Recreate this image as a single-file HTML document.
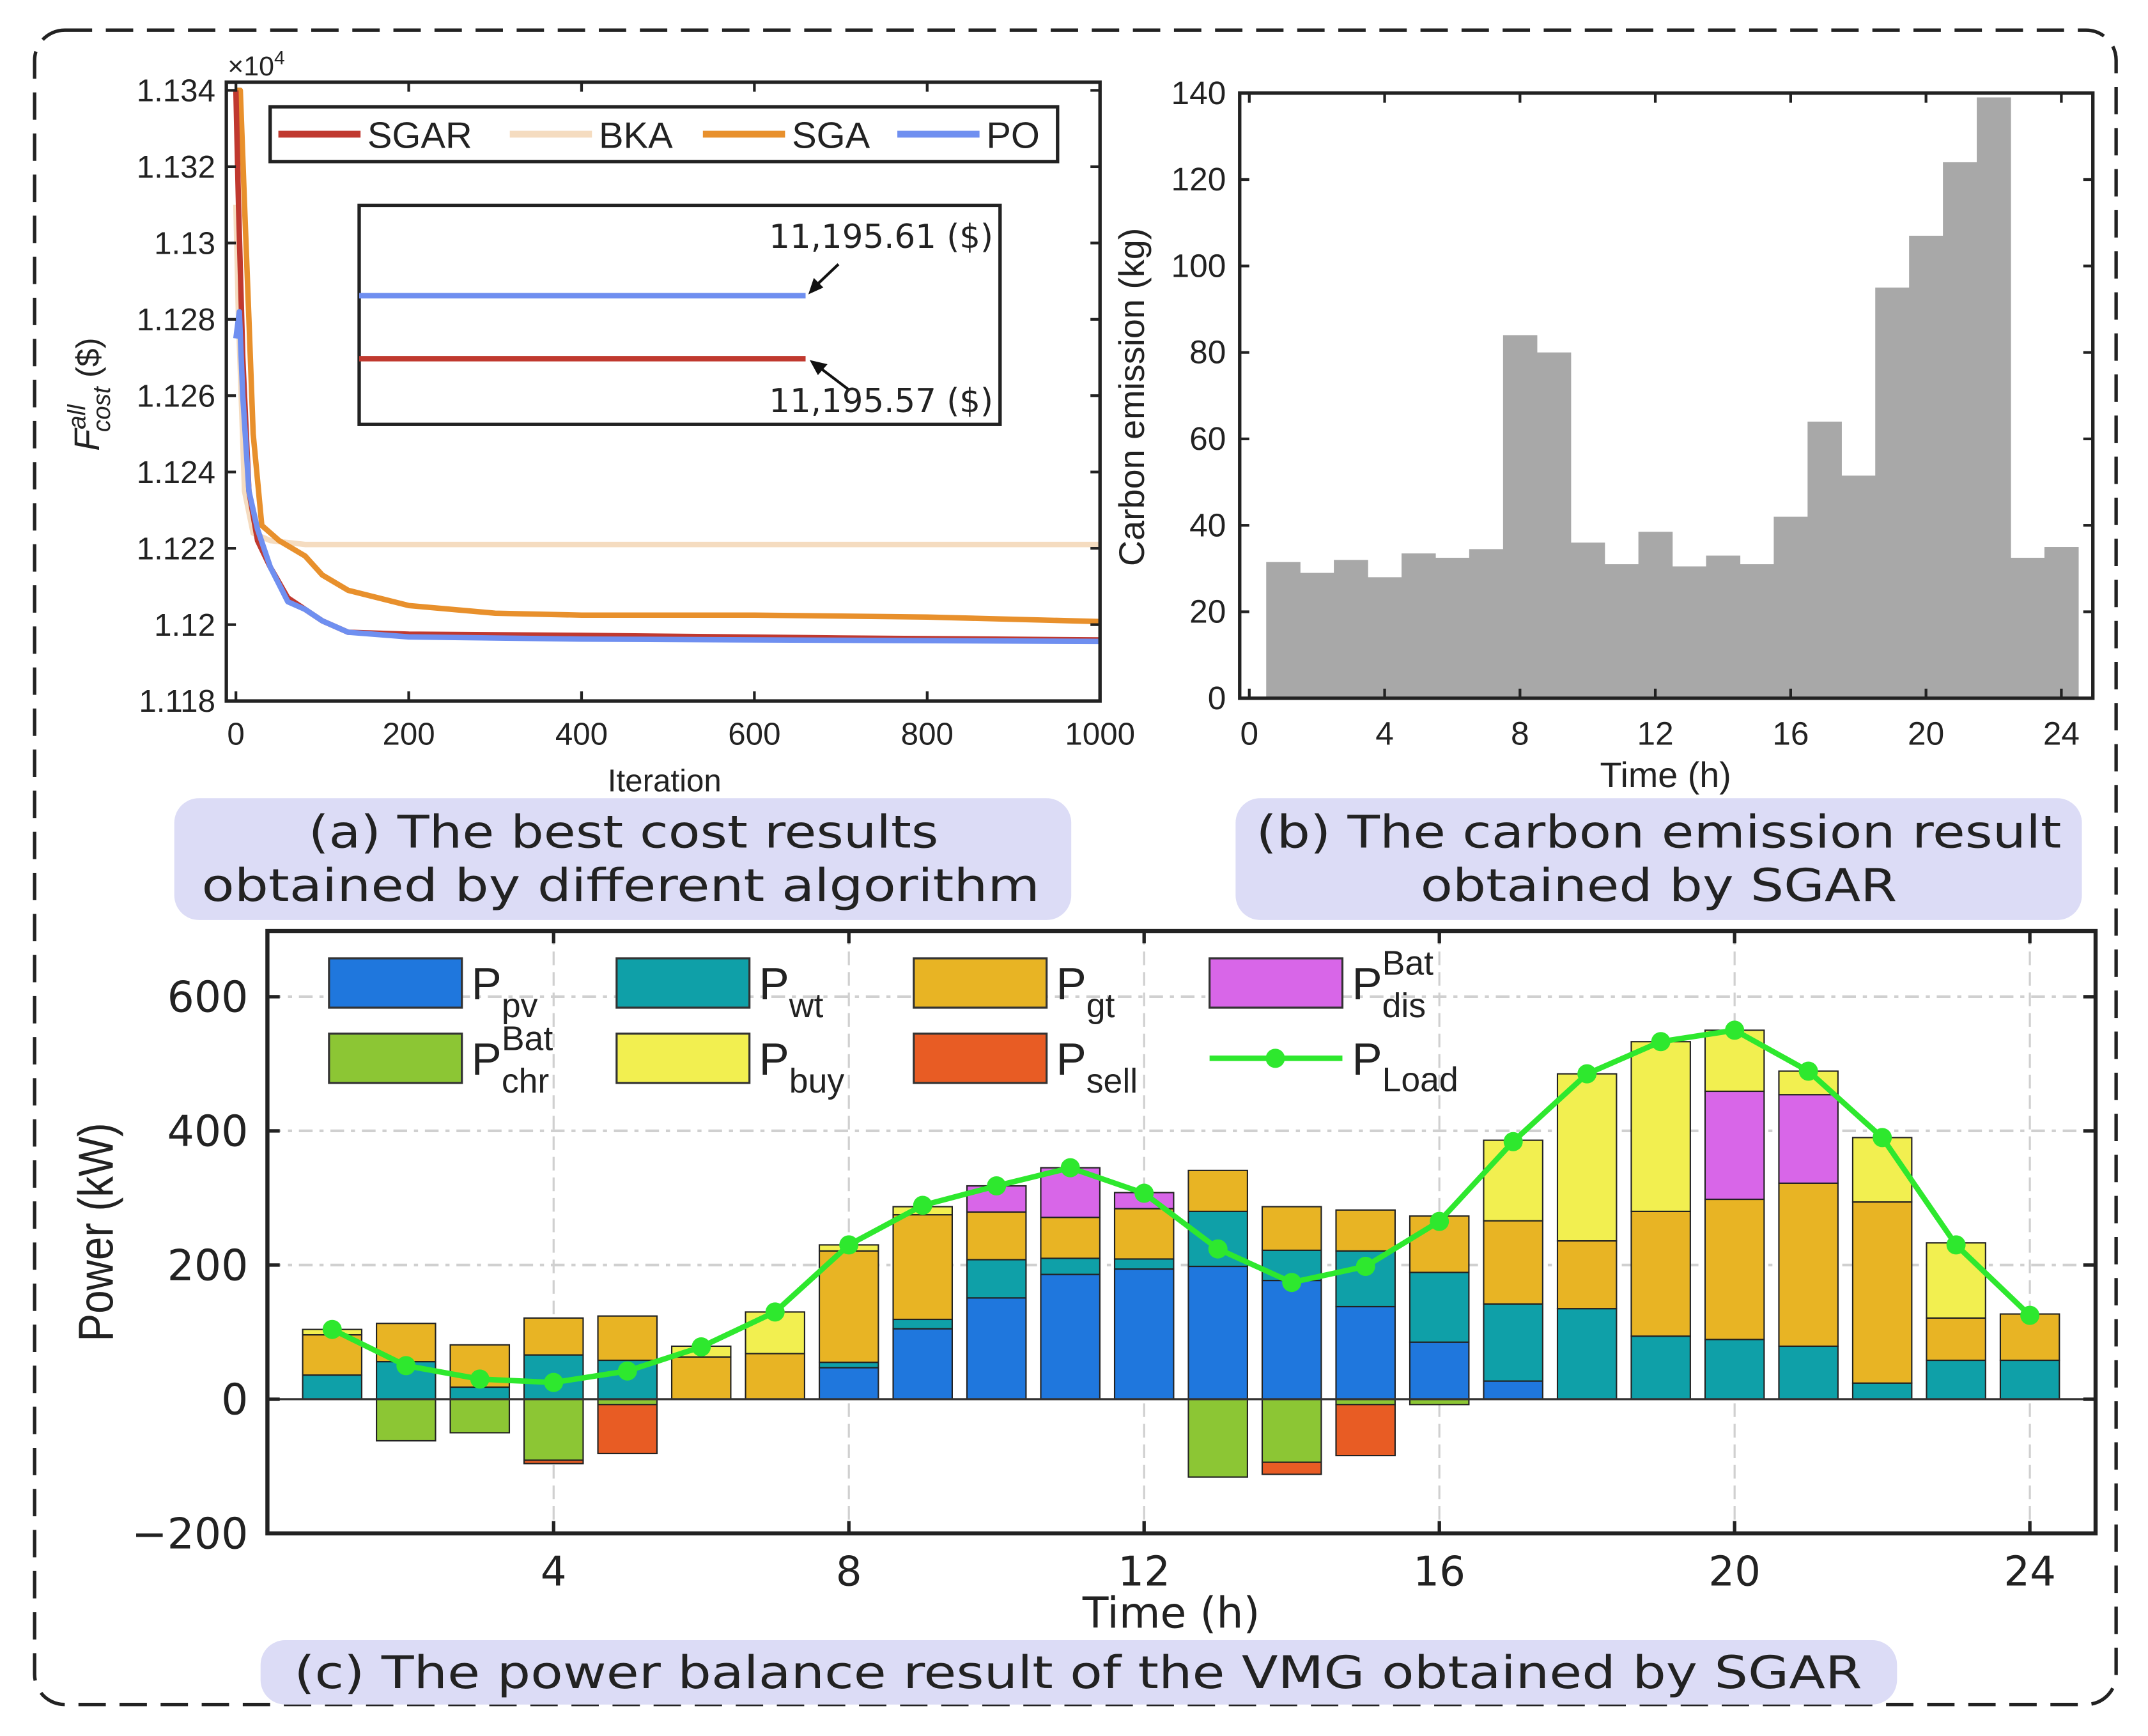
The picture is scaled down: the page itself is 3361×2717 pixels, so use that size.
<!DOCTYPE html>
<html><head><meta charset="utf-8"><style>
html,body{margin:0;padding:0;background:#fff}
svg{display:block}
text{font-family:"Liberation Sans",sans-serif;fill:#222}
.cap{font-family:"DejaVu Sans","Liberation Sans",sans-serif}
</style></head><body>
<svg id="s" width="3361" height="2717" viewBox="0 0 1568 1268" xmlns="http://www.w3.org/2000/svg">
<rect x="25" y="22" width="1520" height="1223" rx="22" fill="none" stroke="#222" stroke-width="2.5" stroke-dasharray="20,10"/>
<g>
<rect x="127" y="583" width="655" height="89" rx="18" fill="#dcdcf6"/>
<text class="cap" x="455" y="619" font-size="33" text-anchor="middle" textLength="460" lengthAdjust="spacingAndGlyphs">(a) The best cost results</text>
<text class="cap" x="453" y="658" font-size="33" text-anchor="middle" textLength="612" lengthAdjust="spacingAndGlyphs">obtained by different algorithm</text>
<rect x="902" y="583" width="618" height="89" rx="18" fill="#dcdcf6"/>
<text class="cap" x="1211" y="619" font-size="33" text-anchor="middle" textLength="588" lengthAdjust="spacingAndGlyphs">(b) The carbon emission result</text>
<text class="cap" x="1211" y="658" font-size="33" text-anchor="middle" textLength="348" lengthAdjust="spacingAndGlyphs">obtained by SGAR</text>
<rect x="190" y="1198" width="1195" height="47" rx="18" fill="#dcdcf6"/>
<text class="cap" x="787" y="1233" font-size="33" text-anchor="middle" textLength="1145" lengthAdjust="spacingAndGlyphs">(c) The power balance result of the VMG obtained by SGAR</text>
</g>
<g id="ga"></g>
<g id="gb"></g>
<g id="gc"></g>
</svg>
<script>
// ---- Panel (a) data ----
const aIterSGAR=[0,3,8,15,25,40,60,80,100,130,200,400,700,1000];
const aValSGAR=[1.134,1.131,1.127,1.1235,1.1222,1.1215,1.1207,1.1204,1.1201,1.1198,1.11975,1.11972,1.11965,1.1196];
const aIterPO=[0,4,8,15,25,40,60,80,100,130,200,400,1000];
const aValPO=[1.1275,1.1282,1.126,1.1235,1.1225,1.1215,1.1206,1.1204,1.1201,1.1198,1.11968,1.11962,1.11956];
const aIterSGA=[0,5,10,15,20,30,50,80,100,130,200,300,400,600,800,1000];
const aValSGA=[1.134,1.134,1.131,1.128,1.125,1.1226,1.1222,1.1218,1.1213,1.1209,1.1205,1.1203,1.12025,1.12025,1.1202,1.12008];
const aIterBKA=[0,3,10,20,40,80,1000];
const aValBKA=[1.131,1.128,1.1235,1.1224,1.1222,1.1221,1.1221];
const aYTicks=[1.118,1.12,1.122,1.124,1.126,1.128,1.13,1.132,1.134];
const aYLabels=["1.118","1.12","1.122","1.124","1.126","1.128","1.13","1.132","1.134"];
const aXTicks=[0,200,400,600,800,1000];
// ---- Panel (b) data ----
const bHours=[1,2,3,4,5,6,7,8,9,10,11,12,13,14,15,16,17,18,19,20,21,22,23,24];
const bEmission=[31.5,29,32,28,33.5,32.5,34.5,84,80,36,31,38.5,30.5,33,31,42,64,51.5,95,107,124,139,32.5,35];
const bYTicks=[0,20,40,60,80,100,120,140];
const bXTicks=[0,4,8,12,16,20,24];
// ---- Panel (c) data ----
const cHours=[1,2,3,4,5,6,7,8,9,10,11,12,13,14,15,16,17,18,19,20,21,22,23,24];
const cPV=[0,0,0,0,0,0,0,47,105,151,186,194,198,177,138,85,27,0,0,0,0,0,0,0];
const cWT=[36,56,18,66,58,0,0,8,14,57,24,15,82,45,83,104,115,135,94,89,79,24,58,58];
const cGT=[60,57,63,55,66,63,68,166,156,71,61,75,61,65,61,84,124,101,186,209,243,270,63,69];
const cDis=[0,0,0,0,0,0,0,0,0,39,74,24,0,0,0,0,0,0,0,161,132,0,0,0];
const cBuy=[8,0,0,0,0,16,62,9,12,0,0,0,0,0,0,0,120,249,253,91,35,96,112,0];
const cChr=[0,62,50,91,8,0,0,0,0,0,0,0,116,94,8,8,0,0,0,0,0,0,0,0];
const cSell=[0,0,0,5,73,0,0,0,0,0,0,0,0,18,76,0,0,0,0,0,0,0,0,0];
const cLoad=[104,50,30,25,42,78,130,230,289,318,345,307,224,174,198,265,384,485,533,550,489,390,230,125];
const cYTicks=[-200,0,200,400,600];
const cYLabels=["\u2212200","0","200","400","600"];
const cXTicks=[4,8,12,16,20,24];

const NS="http://www.w3.org/2000/svg";
function mk(parent,tag,attrs,txt){const e=document.createElementNS(NS,tag);for(const k in attrs)e.setAttribute(k,attrs[k]);if(txt!==undefined)e.textContent=txt;parent.appendChild(e);return e;}

// ===== Panel A =====
(function(){
const g=document.getElementById('ga');
const L=165,R=803,T=60,B=512;
const xs=v=>172+(v/1000)*(803-172);
const ys=v=>512-(v-1.118)/(0.016)*(512-66);
const series=[[aIterBKA,aValBKA,'#f5dcc0','bka-line'],[aIterSGA,aValSGA,'#e8902c','sga-line'],[aIterSGAR,aValSGAR,'#c0392f','sgar-line'],[aIterPO,aValPO,'#6f8ff0','po-line']];
series.forEach(s=>{
 const d=s[0].map((x,i)=>(i?'L':'M')+xs(x).toFixed(1)+','+ys(s[1][i]).toFixed(1)).join(' ');
 const p=mk(g,'path',{d:d,fill:'none',stroke:s[2],'stroke-width':4,'stroke-linejoin':'round'});
 
 
});
const fr=mk(g,'rect',{x:L,y:T,width:R-L,height:B-T,fill:'none',stroke:'#222','stroke-width':2.5});

aYTicks.forEach((v,i)=>{
 const y=ys(v);
 mk(g,'line',{x1:L,x2:L+7,y1:y,y2:y,stroke:'#222','stroke-width':2});
 mk(g,'line',{x1:R,x2:R-7,y1:y,y2:y,stroke:'#222','stroke-width':2});
 const t=mk(g,'text',{x:L-8,y:y+8,'font-size':23,'text-anchor':'end'},aYLabels[i]);
 
});
aXTicks.forEach(v=>{
 const x=xs(v);
 mk(g,'line',{x1:x,x2:x,y1:B,y2:B-7,stroke:'#222','stroke-width':2});
 mk(g,'line',{x1:x,x2:x,y1:T,y2:T+7,stroke:'#222','stroke-width':2});
 const t=mk(g,'text',{x:x,y:B+32,'font-size':23,'text-anchor':'middle'},String(v));
 
});
const e=mk(g,'text',{x:166,y:55,'font-size':20},'\u00d710');mk(e,'tspan',{dy:-8,'font-size':14},'4');

const xl=mk(g,'text',{x:485,y:578,'font-size':23,'text-anchor':'middle'},'Iteration');

const yl=mk(g,'text',{transform:'translate(72,288) rotate(-90)','font-size':26,'text-anchor':'middle','font-style':'italic'},'F');
mk(yl,'tspan',{dy:-10,'font-size':18},'all');mk(yl,'tspan',{dx:-20,dy:18,'font-size':18},'cost');mk(yl,'tspan',{dy:-8,'font-style':'normal','font-size':24},' ($)');

// legend
const lg=mk(g,'g',{});
mk(lg,'rect',{x:197,y:78,width:575,height:40,fill:'#fff',stroke:'#222','stroke-width':2.5});
[['SGAR','#c0392f',203],['BKA','#f5dcc0',372],['SGA','#e8902c',513],['PO','#6f8ff0',655]].forEach(l=>{
 mk(lg,'line',{x1:l[2],x2:l[2]+60,y1:98,y2:98,stroke:l[1],'stroke-width':5});
 const t=mk(lg,'text',{x:l[2]+65,y:108,'font-size':27},l[0]);
 
});
// inset
const ig=mk(g,'g',{});
mk(ig,'rect',{x:262,y:150,width:468,height:160,fill:'#fff',stroke:'#222','stroke-width':2.5});
mk(ig,'line',{x1:262,x2:588,y1:216,y2:216,stroke:'#6f8ff0','stroke-width':4});
mk(ig,'line',{x1:262,x2:588,y1:262,y2:262,stroke:'#c0392f','stroke-width':4});
mk(ig,'line',{x1:612,x2:592,y1:193,y2:212,stroke:'#111','stroke-width':2});
mk(ig,'path',{d:'M590,215 L594,203 L601,210 Z',fill:'#111'});
mk(ig,'line',{x1:620,x2:595,y1:285,y2:266,stroke:'#111','stroke-width':2});
mk(ig,'path',{d:'M591,263 L604,266 L597,274 Z',fill:'#111'});
const t1=mk(ig,'text',{x:725,y:181,'font-size':24,'text-anchor':'end','class':'cap'},'11,195.61 ($)');

const t2=mk(ig,'text',{x:725,y:301,'font-size':24,'text-anchor':'end','class':'cap'},'11,195.57 ($)');

})();

// ===== Panel B =====
(function(){
const g=document.getElementById('gb');
const L=905,R=1528,T=68,B=510;
const xs=v=>912+v*(1505-912)/24;
const ys=v=>510-v*(510-68)/140;
bHours.forEach((h,i)=>{
 const r=mk(g,'rect',{x:xs(h-0.5),y:ys(bEmission[i]),width:xs(h+0.5)-xs(h-0.5)+0.3,height:ys(0)-ys(bEmission[i]),fill:'#a8a8a8'});
 
});
const fr=mk(g,'rect',{x:L,y:T,width:R-L,height:B-T,fill:'none',stroke:'#222','stroke-width':2.5});

bYTicks.forEach(v=>{
 const y=ys(v);
 mk(g,'line',{x1:L,x2:L+7,y1:y,y2:y,stroke:'#222','stroke-width':2});
 mk(g,'line',{x1:R,x2:R-7,y1:y,y2:y,stroke:'#222','stroke-width':2});
 const t=mk(g,'text',{x:L-10,y:y+8,'font-size':24,'text-anchor':'end'},String(v));
 
});
bXTicks.forEach(v=>{
 const x=xs(v);
 mk(g,'line',{x1:x,x2:x,y1:B,y2:B-7,stroke:'#222','stroke-width':2});
 mk(g,'line',{x1:x,x2:x,y1:T,y2:T+7,stroke:'#222','stroke-width':2});
 const t=mk(g,'text',{x:x,y:B+34,'font-size':24,'text-anchor':'middle'},String(v));
 
});
const xl=mk(g,'text',{x:1216,y:575,'font-size':26,'text-anchor':'middle'},'Time (h)');

const yl=mk(g,'text',{transform:'translate(835,290) rotate(-90)','font-size':26,'text-anchor':'middle'},'Carbon emission (kg)');

})();

// ===== Panel C =====
(function(){
const g=document.getElementById('gc');
const L=195,R=1530,T=680,B=1120;
const xs=v=>404+(v-4)*(1482-404)/20;
const ys=v=>1022-v*98/200;
cXTicks.forEach(v=>{mk(g,'line',{x1:xs(v),x2:xs(v),y1:T,y2:B,stroke:'#d0d0d0','stroke-width':1.5,'stroke-dasharray':'10,5'});});
[200,400,600].forEach(v=>{mk(g,'line',{x1:L,x2:R,y1:ys(v),y2:ys(v),stroke:'#d0d0d0','stroke-width':2,'stroke-dasharray':'10,5,3,5'});});
const bw=0.8;
const cols={pv:'#1f77dd',wt:'#0fa0a8',gt:'#e8b424',dis:'#d866e8',buy:'#f2ef50',chr:'#8cc634',sell:'#e85c24'};
cHours.forEach((h,i)=>{
 const x0=xs(h-bw/2),w=xs(h+bw/2)-xs(h-bw/2);
 let acc=0;
 [['pv',cPV],['wt',cWT],['gt',cGT],['dis',cDis],['buy',cBuy]].forEach(s=>{
  const v=s[1][i]; if(v<=0) return;
  const r=mk(g,'rect',{x:x0,y:ys(acc+v),width:w,height:ys(acc)-ys(acc+v),fill:cols[s[0]],stroke:'#222','stroke-width':1});
  
  acc+=v;
 });
 let neg=0;
 [['chr',cChr],['sell',cSell]].forEach(s=>{
  const v=s[1][i]; if(v<=0) return;
  const r=mk(g,'rect',{x:x0,y:ys(neg),width:w,height:ys(neg-v)-ys(neg),fill:cols[s[0]],stroke:'#222','stroke-width':1});
  
  neg-=v;
 });
});
mk(g,'line',{x1:L,x2:R,y1:ys(0),y2:ys(0),stroke:'#333','stroke-width':1.5});
const d=cHours.map((h,i)=>(i?'L':'M')+xs(h).toFixed(1)+','+ys(cLoad[i]).toFixed(1)).join(' ');
const ln=mk(g,'path',{d:d,fill:'none',stroke:'#2ee82e','stroke-width':4,'stroke-linejoin':'round'});

cHours.forEach((h,i)=>{
 const c=mk(g,'circle',{cx:xs(h),cy:ys(cLoad[i]),r:7,fill:'#2ee82e'});
 
});
const fr=mk(g,'rect',{x:L,y:T,width:R-L,height:B-T,fill:'none',stroke:'#222','stroke-width':3});

cYTicks.forEach((v,i)=>{
 const y=ys(v);
 mk(g,'line',{x1:L,x2:L+9,y1:y,y2:y,stroke:'#222','stroke-width':2.5});
 mk(g,'line',{x1:R,x2:R-9,y1:y,y2:y,stroke:'#222','stroke-width':2.5});
 const t=mk(g,'text',{x:L-14,y:y+11,'font-size':31,'text-anchor':'end','class':'cap'},cYLabels[i]);
 
});
cXTicks.forEach(v=>{
 const x=xs(v);
 mk(g,'line',{x1:x,x2:x,y1:B,y2:B-9,stroke:'#222','stroke-width':2.5});
 mk(g,'line',{x1:x,x2:x,y1:T,y2:T+9,stroke:'#222','stroke-width':2.5});
 const t=mk(g,'text',{x:x,y:1158,'font-size':30,'text-anchor':'middle','class':'cap'},String(v));
 
});
const xl=mk(g,'text',{x:855,y:1189,'font-size':31,'text-anchor':'middle','class':'cap'},'Time (h)');

const yl=mk(g,'text',{transform:'translate(82,900) rotate(-90) scale(0.85,1)','font-size':36,'text-anchor':'middle'},'Power (kW)');

// legend
const lg=mk(g,'g',{});
const items=[['pv','pv','',240,700],['wt','wt','',450,700],['gt','gt','',667,700],['dis','dis','Bat',883,700],['chr','chr','Bat',240,755],['buy','buy','',450,755],['sell','sell','',667,755]];
items.forEach(it=>{
 mk(lg,'rect',{x:it[3],y:it[4],width:97,height:36,fill:cols[it[0]],stroke:'#333','stroke-width':1.5});
 const t=mk(lg,'text',{x:it[3]+104,y:it[4]+30,'font-size':33},'P');
 if(it[2]){mk(t,'tspan',{x:it[3]+126,y:it[4]+12,'font-size':25},it[2]);}
 mk(t,'tspan',{x:it[3]+126,y:it[4]+43,'font-size':25},it[1]);
 
});
mk(lg,'line',{x1:883,x2:980,y1:773,y2:773,stroke:'#2ee82e','stroke-width':4});
mk(lg,'circle',{cx:931,cy:773,r:7,fill:'#2ee82e'});
const tl=mk(lg,'text',{x:987,y:785,'font-size':33},'P');mk(tl,'tspan',{x:1009,y:797,'font-size':25},'Load');

})();
</script>
</body></html>
